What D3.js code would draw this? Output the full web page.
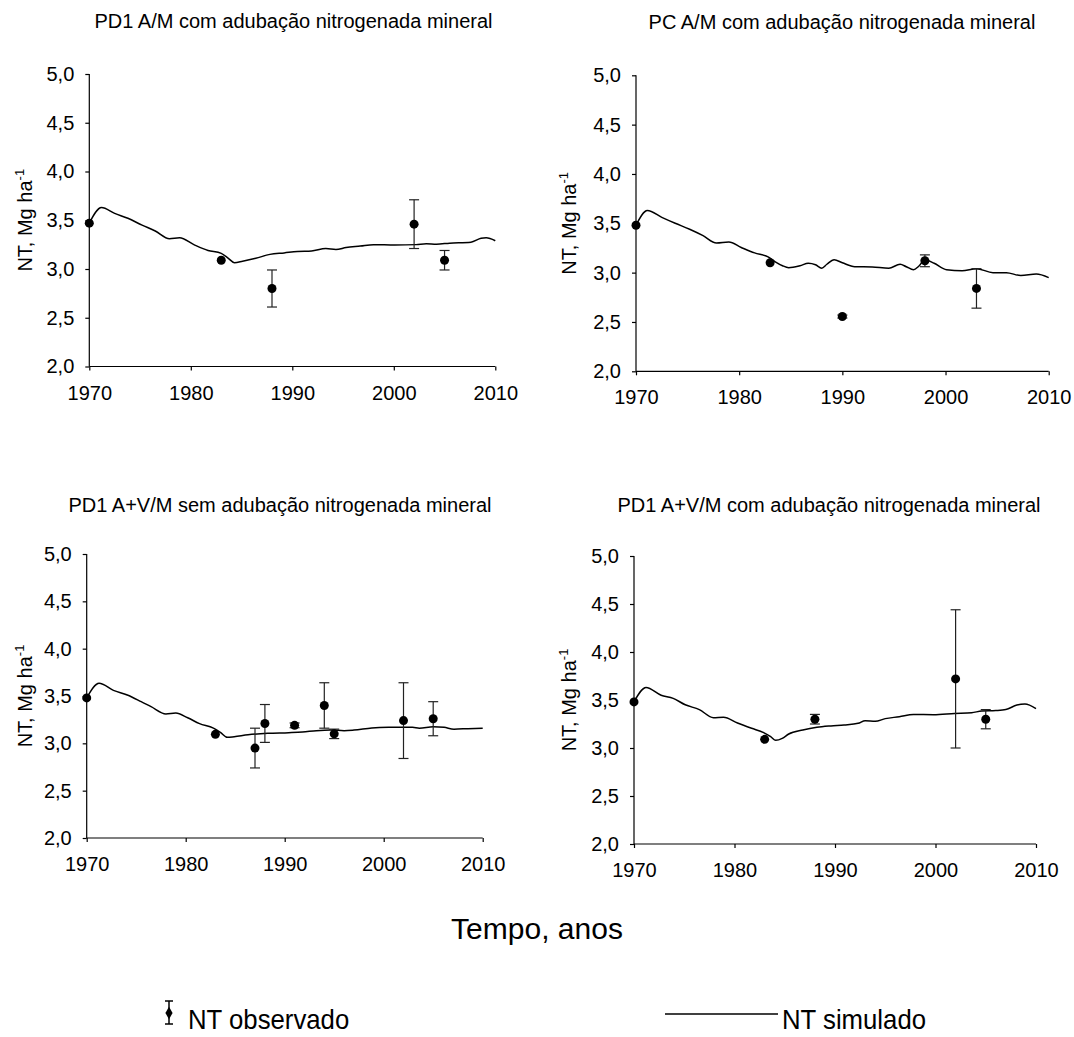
<!DOCTYPE html>
<html><head><meta charset="utf-8">
<script src="https://cdn.jsdelivr.net/npm/d3@7"></script>
<style>
html,body{margin:0;padding:0;background:#fff;}
svg{display:block;font-family:"Liberation Sans",Arial,sans-serif;}
</style></head>
<body>
<svg id="c" width="1074" height="1037"></svg>
<script>
// ---------- DATA ----------
const titles = [
  "PD1 A/M com adubação nitrogenada mineral",
  "PC A/M com adubação nitrogenada mineral",
  "PD1 A+V/M sem adubação nitrogenada mineral",
  "PD1 A+V/M com adubação nitrogenada mineral"
];
const xTicks = [1970, 1980, 1990, 2000, 2010];
const yTicks = [2.0, 2.5, 3.0, 3.5, 4.0, 4.5, 5.0];
const yLabelMain = "NT, Mg ha";
const yLabelSup = "-1";
const xAxisTitle = "Tempo, anos";
const legendObs = "NT observado";
const legendSim = "NT simulado";

// Panel 1 simulated
const sim1Years = [1970,1971.2,1972.5,1973.8,1975.2,1976.5,1977.9,1978.9,1980.3,1981.7,1983.0,1983.7,1984.3,1985.1,1986.4,1987.8,1989.2,1990.5,1991.9,1993.3,1994.3,1995.3,1996.7,1998.0,2000.1,2002.2,2003.2,2004.2,2005.5,2007.6,2008.6,2009.1,2010];
const sim1Vals  = [3.47,3.63,3.57,3.52,3.45,3.39,3.31,3.32,3.25,3.19,3.16,3.11,3.065,3.08,3.11,3.15,3.165,3.18,3.185,3.21,3.20,3.22,3.235,3.25,3.245,3.25,3.26,3.255,3.265,3.275,3.315,3.32,3.29];
const obs1Years = [1970,1983,1988,2002,2005];
const obs1Vals  = [3.47,3.09,2.80,3.46,3.09];
const obs1Err   = [0,0,0.19,0.25,0.10];

// Panel 2 simulated
const sim2Years = [1970,1971.1,1972.5,1973.8,1975.2,1976.5,1977.8,1979.0,1980.2,1981.5,1982.8,1983.5,1984.2,1984.8,1985.9,1986.7,1987.4,1988.0,1988.5,1989.2,1990.0,1991.2,1992.9,1994.5,1995.6,1996.2,1996.9,1997.4,1998.0,1998.9,2000.1,2001.6,2003.0,2004.6,2005.9,2007.3,2008.8,2010];
const sim2Vals  = [3.48,3.63,3.56,3.50,3.44,3.375,3.30,3.31,3.255,3.20,3.16,3.11,3.07,3.05,3.07,3.095,3.08,3.045,3.085,3.13,3.10,3.06,3.057,3.045,3.085,3.06,3.03,3.065,3.13,3.095,3.03,3.02,3.04,3.0,3.0,2.97,2.985,2.95];
const obs2Years = [1970,1983,1990,1998,2003];
const obs2Vals  = [3.48,3.10,2.555,3.12,2.84];
const obs2Err   = [0,0,0.015,0.06,0.20];

// Panel 3 simulated
const sim3Years = [1970,1971.25,1972.7,1974.1,1975.5,1976.5,1978.0,1979.0,1980.2,1981.4,1982.8,1983.5,1984.2,1984.9,1986.3,1988.3,1990.4,1991.8,1993.2,1994.6,1996.0,1997.0,1998.8,2000.5,2001.9,2002.9,2003.6,2005.0,2006.1,2007.1,2008.5,2010];
const sim3Vals  = [3.48,3.634,3.56,3.51,3.44,3.387,3.31,3.32,3.27,3.208,3.16,3.116,3.063,3.07,3.09,3.106,3.113,3.12,3.134,3.141,3.134,3.14,3.162,3.169,3.17,3.17,3.16,3.176,3.169,3.15,3.155,3.16];
const obs3Years = [1970,1983,1987,1988,1991,1994,1995,2002,2005];
const obs3Vals  = [3.48,3.095,2.95,3.21,3.19,3.40,3.10,3.24,3.26];
const obs3Err   = [0,0,0.21,0.20,0.025,0.24,0.05,0.40,0.18];

// Panel 4 simulated
const sim4Years = [1970,1971.2,1972.7,1973.9,1975.1,1976.5,1977.9,1978.9,1980.3,1981.7,1982.9,1983.6,1984.1,1984.75,1985.4,1986.8,1988.2,1989.6,1990.9,1992.3,1993.0,1994.0,1995.0,1996.4,1997.8,1999.8,2001.9,2003.6,2004.6,2006.0,2007.0,2008.1,2008.9,2010];
const sim4Vals  = [3.48,3.63,3.55,3.517,3.45,3.40,3.316,3.32,3.26,3.205,3.16,3.118,3.08,3.10,3.146,3.187,3.215,3.23,3.24,3.257,3.285,3.278,3.306,3.326,3.35,3.347,3.36,3.368,3.385,3.39,3.40,3.448,3.458,3.41];
const obs4Years = [1970,1983,1988,2002,2005];
const obs4Vals  = [3.48,3.09,3.30,3.72,3.30];
const obs4Err   = [0,0,0.05,0.72,0.10];

// ---------- LAYOUT ----------
const panels = [
  {l:89.3, r:495.3, t:74,   b:366.5, tx:293.5, ty:28,  yl:32,  title:titles[0], sy:sim1Years, sv:sim1Vals, oy:obs1Years, ov:obs1Vals, oe:obs1Err},
  {l:636,  r:1048.7,t:75.3, b:371.3, tx:842,   ty:29,  yl:576, title:titles[1], sy:sim2Years, sv:sim2Vals, oy:obs2Years, ov:obs2Vals, oe:obs2Err},
  {l:86.7, r:482.7, t:554,  b:838,   tx:280,   ty:512, yl:31.5,title:titles[2], sy:sim3Years, sv:sim3Vals, oy:obs3Years, ov:obs3Vals, oe:obs3Err},
  {l:634,  r:1036,  t:556,  b:844,   tx:829,   ty:512, yl:576, title:titles[3], sy:sim4Years, sv:sim4Vals, oy:obs4Years, ov:obs4Vals, oe:obs4Err}
];

const svg = d3.select("#c");
const fmt = v => d3.format(".1f")(v).replace(".", ",");

panels.forEach(p => {
  const x = d3.scaleLinear().domain([1970, 2010]).range([p.l, p.r]);
  const y = d3.scaleLinear().domain([2, 5]).range([p.b, p.t]);
  const g = svg.append("g");

  // title
  g.append("text").attr("x", p.tx).attr("y", p.ty).attr("text-anchor","middle")
    .attr("font-size", 20).attr("fill","#000").text(p.title);

  // axes
  const ya = g.append("g").attr("transform", `translate(${p.l},0)`)
    .call(d3.axisLeft(y).tickValues(yTicks).tickFormat(fmt).tickSize(4).tickPadding(11));
  const xa = g.append("g").attr("transform", `translate(0,${p.b})`)
    .call(d3.axisBottom(x).tickValues(xTicks).tickFormat(d3.format("d")).tickSize(4).tickPadding(15));
  [ya, xa].forEach(a => {
    a.selectAll("line").attr("stroke","#000").attr("stroke-width",1.2);
    a.selectAll("text").attr("font-size",20).attr("fill","#000").attr("font-family","Liberation Sans, Arial, sans-serif");
    a.select(".domain").remove();
  });
  g.append("line").attr("x1",p.l).attr("x2",p.l).attr("y1",y(5)).attr("y2",y(2)).attr("stroke","#000").attr("stroke-width",1.2);
  g.append("line").attr("x1",p.l).attr("x2",x(2010)).attr("y1",p.b).attr("y2",p.b).attr("stroke","#000").attr("stroke-width",1.2);

  // y label
  const yc = (p.t + p.b) / 2;
  const yt = g.append("text").attr("transform", `translate(${p.yl},${yc}) rotate(-90)`)
    .attr("text-anchor","middle").attr("font-size",20).attr("fill","#000");
  yt.append("tspan").text(yLabelMain);
  yt.append("tspan").attr("font-size",13).attr("dy",-8).text(yLabelSup);

  // simulated line
  const pts = p.sy.map((yr, i) => [yr, p.sv[i]]);
  g.append("path").datum(pts)
    .attr("d", d3.line().x(d => x(d[0])).y(d => y(d[1])).curve(d3.curveMonotoneX))
    .attr("fill","none").attr("stroke","#000").attr("stroke-width",1.5);

  // observed with error bars
  const obs = p.oy.map((yr, i) => ({yr, v:p.ov[i], e:p.oe[i]}));
  const eb = g.append("g");
  obs.filter(d => d.e > 0).forEach(d => {
    eb.append("line").attr("x1",x(d.yr)).attr("x2",x(d.yr)).attr("y1",y(d.v+d.e)).attr("y2",y(d.v-d.e)).attr("stroke","#222").attr("stroke-width",1.2);
    [d.v+d.e, d.v-d.e].forEach(vv => {
      eb.append("line").attr("x1",x(d.yr)-5).attr("x2",x(d.yr)+5).attr("y1",y(vv)).attr("y2",y(vv)).attr("stroke","#222").attr("stroke-width",1.2);
    });
  });
  g.selectAll("circle.o").data(obs).join("circle").attr("class","o")
    .attr("cx", d => x(d.yr)).attr("cy", d => y(d.v)).attr("r", 4.5).attr("fill","#000");
});

// common x title
svg.append("text").attr("x",537).attr("y",939).attr("text-anchor","middle")
  .attr("font-size",30).attr("fill","#000").text(xAxisTitle);

// legend
const lg = svg.append("g");
const ix = 169;
lg.append("line").attr("x1",ix).attr("x2",ix).attr("y1",1001).attr("y2",1024).attr("stroke","#000").attr("stroke-width",1.5);
lg.append("line").attr("x1",ix-4).attr("x2",ix+4).attr("y1",1001).attr("y2",1001).attr("stroke","#000").attr("stroke-width",1.5);
lg.append("line").attr("x1",ix-4).attr("x2",ix+4).attr("y1",1024).attr("y2",1024).attr("stroke","#000").attr("stroke-width",1.5);
lg.append("path").attr("d", d3.symbol(d3.symbolDiamond, 45)()).attr("transform",`translate(${ix},1013)`).attr("fill","#000");
lg.append("text").attr("transform","translate(188,1029) scale(0.92,1)").attr("font-size",28).attr("fill","#000").text(legendObs);
lg.append("line").attr("x1",665).attr("x2",778).attr("y1",1014).attr("y2",1014).attr("stroke","#000").attr("stroke-width",1.5);
lg.append("text").attr("transform","translate(782,1029) scale(0.92,1)").attr("font-size",28).attr("fill","#000").text(legendSim);
</script>
</body></html>
